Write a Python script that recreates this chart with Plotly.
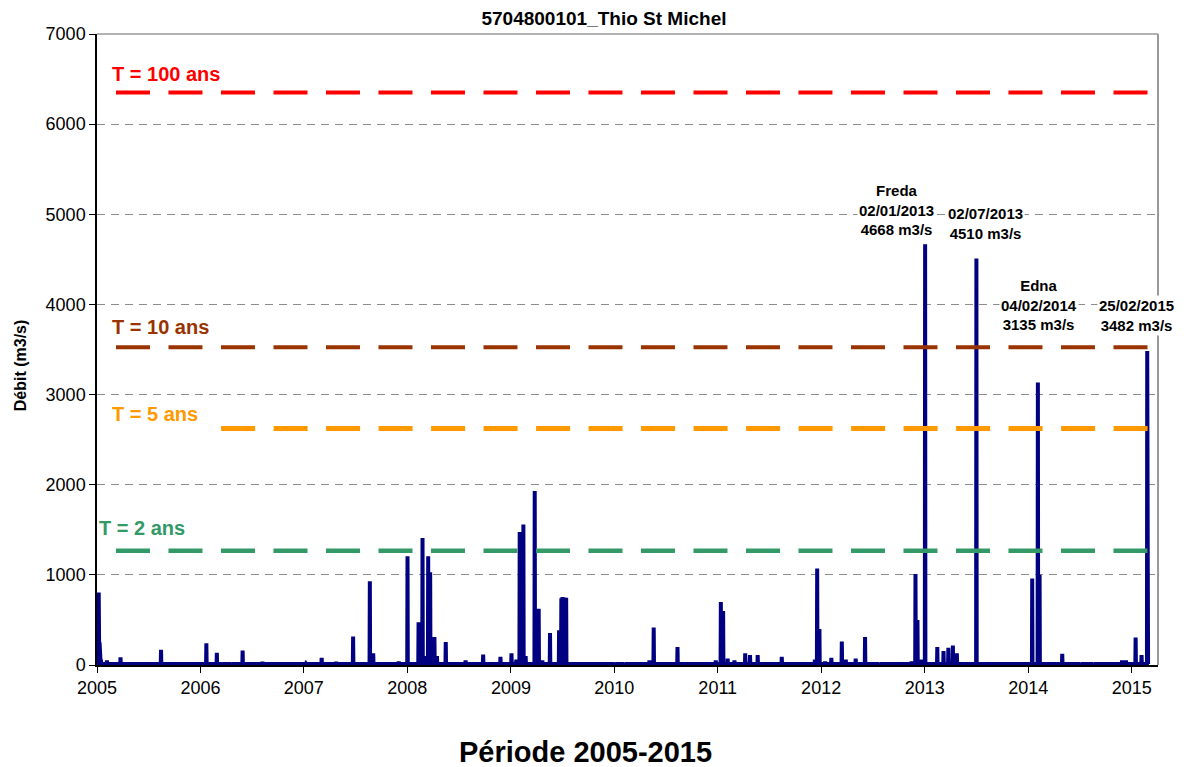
import pandas as pd
import plotly.graph_objects as go

event_dates = [
    "2005-01-02", "2005-01-07", "2005-01-10", "2005-01-15", "2005-02-05", "2005-03-25",
    "2005-05-22", "2005-08-15",
    "2006-01-22", "2006-02-28", "2006-03-20", "2006-04-20", "2006-05-30", "2006-08-08",
    "2007-01-08", "2007-03-05", "2007-04-25", "2007-06-24", "2007-08-22", "2007-09-03",
    "2007-12-02",
    "2008-01-02", "2008-02-10", "2008-02-24", "2008-03-05", "2008-03-15", "2008-03-22",
    "2008-04-06", "2008-04-15", "2008-05-16", "2008-05-28", "2008-07-25", "2008-09-25",
    "2008-11-25",
    "2009-01-03", "2009-01-20", "2009-02-01", "2009-02-14", "2009-02-22", "2009-03-26",
    "2009-04-09", "2009-04-22", "2009-05-19", "2009-06-20", "2009-06-28", "2009-07-02",
    "2009-07-08", "2009-07-15",
    "2010-01-03", "2010-02-05", "2010-02-25", "2010-05-05", "2010-05-20", "2010-08-12",
    "2010-12-25",
    "2011-01-12", "2011-01-20", "2011-02-05", "2011-03-01", "2011-04-08", "2011-04-25",
    "2011-05-22", "2011-08-15", "2011-12-10", "2011-12-18", "2011-12-26",
    "2012-01-15", "2012-02-06", "2012-03-14", "2012-03-28", "2012-05-02", "2012-06-04",
    "2012-07-25", "2012-09-10", "2012-11-15", "2012-11-29", "2012-12-06", "2012-12-20",
    "2013-01-02", "2013-02-14", "2013-03-08", "2013-03-25", "2013-04-10", "2013-04-24",
    "2013-07-02", "2013-08-05",
    "2014-01-15", "2014-02-04", "2014-02-10", "2014-05-01", "2014-07-05", "2014-08-20",
    "2014-11-28", "2014-12-12",
    "2015-01-15", "2015-02-05", "2015-02-25", "2015-02-27",
]
event_peaks = [
    340, 805, 250, 60, 50, 85,
    30, 170,
    240, 135, 25, 25, 160, 35,
    15, 80, 35, 315, 930, 130,
    40,
    1205, 475, 1410, 100, 1205, 1030,
    310, 100, 255, 30, 50, 115,
    90,
    130, 60, 1475, 1560, 100, 1930,
    625, 50, 355, 385, 740, 755,
    750, 745,
    20, 20, 30, 50, 415, 200,
    50,
    700, 600, 70, 50, 130, 110,
    110, 90, 60, 1070, 400,
    40, 80, 260, 60, 70, 310,
    20, 30, 40, 1010, 500, 60,
    4668, 200, 155, 190, 215, 130,
    4510, 30,
    960, 3135, 1000, 125, 20, 20,
    50, 50,
    305, 110, 3482, 1000,
]
base_flow = 10

# return-period flows (m3/s)
return_labels = ["T = 100 ans", "T = 10 ans", "T = 5 ans", "T = 2 ans"]
return_flows = [6350, 3525, 2625, 1268]
return_starts = ["2005-03-09", "2005-03-09", "2006-03-15", "2005-03-09"]
return_end = "2015-03-02"
return_colors = ["#ff0000", "#993300", "#ff9900", "#339966"]

storm_labels = [
    "Freda<br>02/01/2013<br>4668 m3/s",
    "02/07/2013<br>4510 m3/s",
    "Edna<br>04/02/2014<br>3135 m3/s",
    "25/02/2015<br>3482 m3/s",
]

years = list(range(2005, 2016))

# build the series: low flow either side of each peak
pts = []
for d, q in zip(pd.to_datetime(event_dates), event_peaks):
    pts.append((d - pd.Timedelta(days=1), base_flow))
    pts.append((d, q))
    pts.append((d + pd.Timedelta(days=1), base_flow))
pts.sort(key=lambda p: p[0])
flow_x = [p[0] for p in pts]
flow_y = [p[1] for p in pts]

FONT = "Liberation Sans, Arial, sans-serif"

fig = go.Figure()

fig.add_trace(go.Scatter(
    x=flow_x, y=flow_y, mode="lines",
    line=dict(color="#000080", width=4),
    showlegend=False, hoverinfo="skip"
))

widths = [4, 4, 5, 4.5]
for lab, q, start, col, w in zip(return_labels, return_flows, return_starts, return_colors, widths):
    fig.add_trace(go.Scatter(
        x=[start, return_end], y=[q, q], mode="lines",
        line=dict(color=col, width=w, dash="34px,18.5px"),
        showlegend=False, hoverinfo="skip"
    ))

# return period labels
label_pos = [("2005-02-16", 6551), ("2005-02-16", 3747), ("2005-02-16", 2781), ("2005-01-01", 1516)]
for lab, col, (lx, ly) in zip(return_labels, return_colors, label_pos):
    fig.add_annotation(
        x=lx, y=ly, text="<b>%s</b>" % lab, showarrow=False,
        xanchor="left", yanchor="middle",
        font=dict(family=FONT, size=20, color=col)
    )

# storm labels
storm_pos = [("2012-09-24", 5046), ("2013-08-04", 4902), ("2014-02-07", 3991), ("2015-01-19", 3875)]
for lab, (sx, sy) in zip(storm_labels, storm_pos):
    fig.add_annotation(
        x=sx, y=sy, text="<b>%s</b>" % lab, showarrow=False,
        xanchor="center", yanchor="middle", align="center",
        bgcolor="white", borderpad=1,
        font=dict(family=FONT, size=15, color="black")
    )

# axis titles
fig.add_annotation(
    xref="paper", yref="paper", x=-0.0726, y=0.475,
    text="<b>Débit (m3/s)</b>", textangle=-90, showarrow=False,
    xanchor="center", yanchor="middle",
    font=dict(family=FONT, size=16, color="black")
)
fig.add_annotation(
    xref="paper", yref="paper", x=0.46, y=-0.138,
    text="<b>Période 2005-2015</b>", showarrow=False,
    xanchor="center", yanchor="middle",
    font=dict(family=FONT, size=29, color="black")
)

# grey frame on top and right
fig.add_shape(type="line", xref="paper", yref="paper", x0=0, x1=1, y0=1, y1=1,
              line=dict(color="#999999", width=1.5))
fig.add_shape(type="line", xref="paper", yref="paper", x0=1, x1=1, y0=0, y1=1,
              line=dict(color="#999999", width=2))

# page body adds an 8px offset, so the figure is a bit smaller than the window
fig.update_layout(
    width=1179, height=759,
    margin=dict(l=89, r=29, t=26, b=102),
    paper_bgcolor="white", plot_bgcolor="white",
    title=dict(text="<b>5704800101_Thio St Michel</b>",
               x=0.5055, y=0.9868, xanchor="center", yanchor="middle",
               font=dict(family=FONT, size=19, color="black")),
    font=dict(family=FONT, size=18, color="black"),
)

fig.update_xaxes(
    type="date", range=["2005-01-01", "2015-04-04"],
    tickvals=["%d-01-01" % y for y in years], ticktext=[str(y) for y in years],
    ticks="outside", ticklen=6, tickcolor="black",
    showline=True, linecolor="black", linewidth=1.5,
    showgrid=False, zeroline=False,
    tickfont=dict(family=FONT, size=18, color="black"),
)
fig.update_yaxes(
    range=[0, 7000], dtick=1000, tick0=0,
    ticks="outside", ticklen=6, tickcolor="black",
    showline=True, linecolor="black", linewidth=1.5,
    showgrid=True, gridcolor="#8c8c8c", gridwidth=1, griddash="8px,6px",
    zeroline=False,
    tickfont=dict(family=FONT, size=18, color="black"),
)

fig.write_html("out.html")
